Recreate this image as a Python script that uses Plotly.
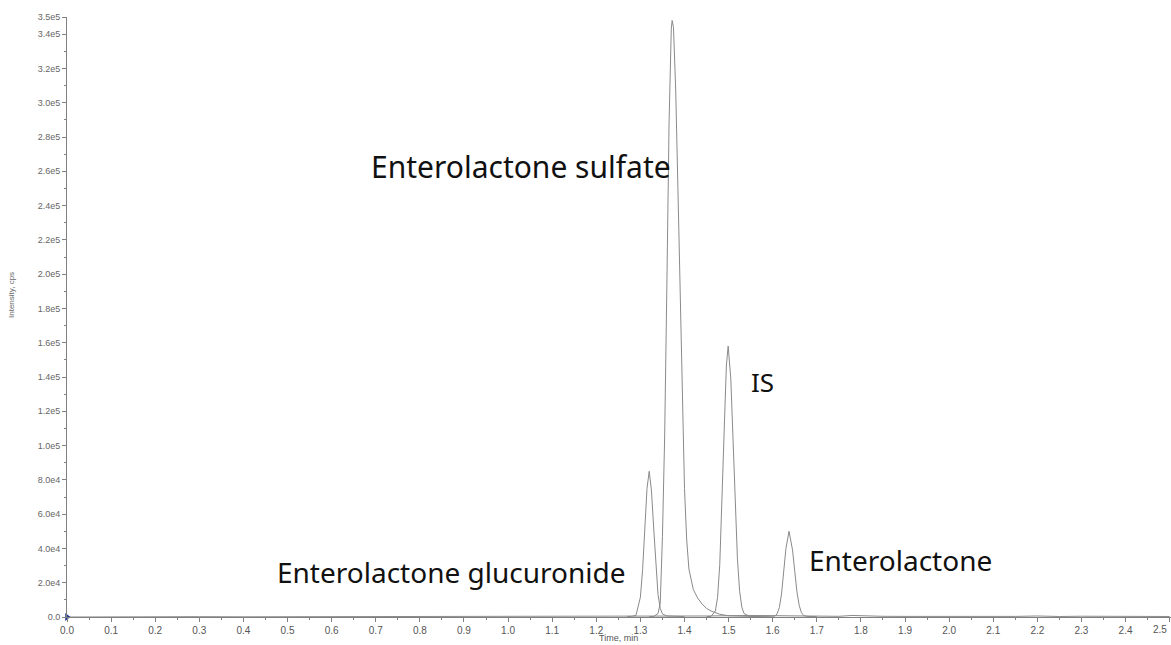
import plotly.graph_objects as go

# ---------------- data ----------------
baseline_time = [0.0, 0.1, 0.2, 0.3, 0.4, 0.5, 0.6, 0.7, 0.8, 0.9, 1.0, 1.1, 1.2,
                 1.25, 1.28, 1.45, 1.55, 1.6, 1.7, 1.75, 1.78, 1.8, 1.82, 1.85, 1.9,
                 1.95, 2.0, 2.05, 2.1, 2.15, 2.2, 2.25, 2.3, 2.35, 2.38, 2.4, 2.45, 2.5]
baseline_int = [0, 150, 100, 200, 120, 180, 150, 250, 200, 150, 250, 200, 300,
                350, 300, 600, 900, 700, 500, 400, 900, 700, 500, 400, 350,
                300, 450, 300, 500, 350, 600, 300, 450, 350, 700, 400, 350, 300]

gluc_time = [1.27, 1.28, 1.29, 1.30, 1.305, 1.31, 1.315, 1.32, 1.325, 1.33,
             1.335, 1.34, 1.345, 1.35, 1.36, 1.38, 1.40]
gluc_int = [300, 400, 950, 11500, 27600, 51600, 75000, 85000, 74000, 52500,
            29000, 13000, 5000, 1800, 600, 300, 250]

sulf_time = [1.32, 1.33, 1.34, 1.345, 1.35, 1.355, 1.36, 1.365, 1.37, 1.372,
             1.375, 1.38, 1.385, 1.39, 1.395, 1.40, 1.405, 1.41, 1.42, 1.43,
             1.44, 1.45, 1.46, 1.47, 1.48, 1.50, 1.53, 1.56]
sulf_int = [250, 300, 2000, 8000, 47000, 105000, 193000, 288000, 343000, 348000,
            344000, 308000, 251000, 185000, 124000, 75000, 45000, 28000, 16000, 11000,
            7500, 5000, 3500, 2500, 1600, 700, 300, 250]

is_time = [1.45, 1.46, 1.47, 1.475, 1.48, 1.485, 1.49, 1.495, 1.499, 1.505,
           1.51, 1.515, 1.52, 1.525, 1.53, 1.535, 1.545, 1.56, 1.58]
is_int = [250, 300, 3500, 11500, 30700, 65000, 109000, 147000, 158000, 139000,
          103000, 65000, 34000, 15000, 5700, 2000, 700, 300, 250]

el_time = [1.58, 1.60, 1.605, 1.61, 1.615, 1.62, 1.625, 1.63, 1.637, 1.645,
           1.65, 1.655, 1.66, 1.665, 1.67, 1.68, 1.70]
el_int = [300, 200, 480, 1850, 5500, 13400, 26000, 40000, 50000, 39000,
          26500, 14600, 6800, 2600, 800, 300, 250]

y_tickvals = [0, 2e4, 4e4, 6e4, 8e4, 1e5, 1.2e5, 1.4e5, 1.6e5, 1.8e5, 2.0e5,
              2.2e5, 2.4e5, 2.6e5, 2.8e5, 3.0e5, 3.2e5, 3.4e5, 3.5e5]
y_ticktext = ["0.0", "2.0e4", "4.0e4", "6.0e4", "8.0e4", "1.0e5", "1.2e5", "1.4e5",
              "1.6e5", "1.8e5", "2.0e5", "2.2e5", "2.4e5", "2.6e5", "2.8e5", "3.0e5",
              "3.2e5", "3.4e5", "3.5e5"]
x_tickvals = [0.0, 0.1, 0.2, 0.3, 0.4, 0.5, 0.6, 0.7, 0.8, 0.9, 1.0, 1.1, 1.2,
              1.3, 1.4, 1.5, 1.6, 1.7, 1.8, 1.9, 2.0, 2.1, 2.2, 2.3, 2.4, 2.5]
x_ticktext = ["0.0", "0.1", "0.2", "0.3", "0.4", "0.5", "0.6", "0.7", "0.8", "0.9",
              "1.0", "1.1", "1.2", "1.3", "1.4", "1.5", "1.6", "1.7", "1.8", "1.9",
              "2.0", "2.1", "2.2", "2.3", "2.4", ""]
edge_label = "2.5"  # last x label, pulled inside the edge as in the reference

labels = ["Enterolactone sulfate", "IS", "Enterolactone glucuronide", "Enterolactone"]
label_x = [1.029, 1.576, 0.871, 1.889]
label_y = [2.63e5, 1.37e5, 2.6e4, 3.3e4]
label_size = [30, 26, 28, 28]

# ---------------- figure ----------------
# body margin is removed (post_script), so the figure fills the window exactly
W, H = 1171, 645
x0_win, y0_win, x1_win, ytop_win = 67, 617, 1171, 17
ML, MT = x0_win, ytop_win
MR = W - x1_win
MB = H - y0_win
line_color = "#8a8a8a"

fig = go.Figure()
for t, v in [(baseline_time, baseline_int), (gluc_time, gluc_int),
             (sulf_time, sulf_int), (is_time, is_int), (el_time, el_int)]:
    fig.add_trace(go.Scatter(x=t, y=v, mode="lines",
                             line=dict(color=line_color, width=1),
                             hoverinfo="skip", showlegend=False))

# small blue marker at origin
fig.add_trace(go.Scatter(x=[0], y=[0], mode="markers",
                         marker=dict(symbol="triangle-right", size=7, color="#1f3a8a"),
                         cliponaxis=False, showlegend=False, hoverinfo="skip"))

for txt, xx, yy, fs in zip(labels, label_x, label_y, label_size):
    fig.add_annotation(x=xx, y=yy, text=txt, showarrow=False,
                       font=dict(family="Noto Sans", size=fs, color="#111111"))

pw, ph = W - ML - MR, H - MT - MB


def px_to_paper(xw, yw):
    return (xw - x0_win) / pw, (y0_win - yw) / ph


tx, ty = px_to_paper(618, 638)
fig.add_annotation(x=tx, y=ty, xref="paper", yref="paper", text="Time, min",
                   showarrow=False, xanchor="center", yanchor="middle",
                   font=dict(family="Liberation Sans", size=9, color="#555555"))
ix, iy = px_to_paper(11, 295)
fig.add_annotation(x=ix, y=iy, xref="paper", yref="paper", text="Intensity, cps",
                   showarrow=False, textangle=-90, xanchor="center", yanchor="middle",
                   font=dict(family="Liberation Sans", size=8, color="#666666"))
ex, ey = px_to_paper(1160, 629)
fig.add_annotation(x=ex, y=ey, xref="paper", yref="paper", text=edge_label,
                   showarrow=False, xanchor="center", yanchor="middle",
                   font=dict(family="Liberation Sans", size=10, color="#555555"))

fig.update_layout(
    width=W, height=H,
    margin=dict(l=ML, r=MR, t=MT, b=MB, autoexpand=False),
    plot_bgcolor="white", paper_bgcolor="white",
    showlegend=False,
    font=dict(family="Liberation Sans", size=9, color="#666666"),
)

fig.update_xaxes(range=[0, 2.503], tickmode="array", tickvals=x_tickvals,
                 ticktext=x_ticktext, ticks="outside", ticklen=4, tickcolor="#808080",
                 showline=True, linecolor="#808080", linewidth=1,
                 showgrid=False, zeroline=False, automargin=False,
                 minor=dict(tickmode="linear", tick0=0, dtick=0.05, ticks="outside",
                            ticklen=2, tickcolor="#808080"),
                 tickfont=dict(size=10, color="#555555"))
fig.update_yaxes(range=[0, 3.5e5], tickmode="array", tickvals=y_tickvals,
                 ticktext=y_ticktext, ticks="outside", ticklen=4, tickcolor="#808080",
                 showline=True, linecolor="#808080", linewidth=1,
                 showgrid=False, zeroline=False, automargin=False,
                 minor=dict(tickmode="linear", tick0=0, dtick=1e4, ticks="outside",
                            ticklen=2, tickcolor="#808080"),
                 tickfont=dict(size=9, color="#666666"))

fig.write_html("out.html",
               config={"displayModeBar": False},
               post_script="document.body.style.margin='0px';"
                           "document.body.style.overflow='hidden';")
